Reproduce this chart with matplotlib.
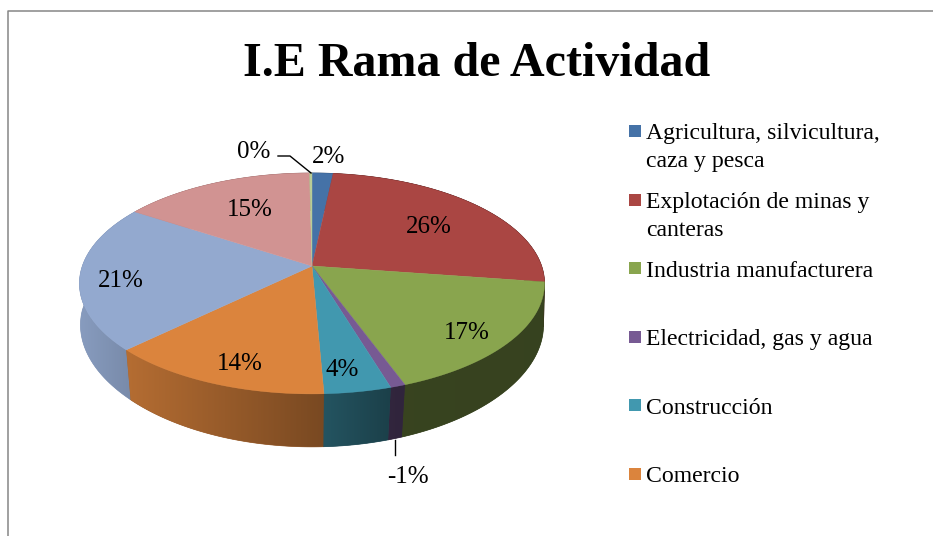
import matplotlib
matplotlib.use("Agg")
import matplotlib.pyplot as plt
from matplotlib.colors import to_rgb
from matplotlib.patches import Polygon
import numpy as np

plt.rcParams['font.family'] = ['Liberation Serif', 'DejaVu Serif']

title = "I.E Rama de Actividad"

# porcentajes (sentido horario desde arriba)
shares = [1.7, 25.6, 17.1, 0.9, 4.0, 13.5, 21.4, 15.6, 0.2]
labels = ["2%", "26%", "17%", "-1%", "4%", "14%", "21%", "15%", "0%"]
colors = ["#4572a7", "#aa4643", "#89a54e", "#775a93", "#4198af",
          "#db843d", "#93a9cf", "#d19392", "#b9cd96"]

legend_names = [["Agricultura, silvicultura,", "caza y pesca"],
                ["Explotación de minas y", "canteras"],
                ["Industria manufacturera"],
                ["Electricidad, gas y agua"],
                ["Construcción"],
                ["Comercio"]]

# layout en pixeles
cx, cy = 312, 266
rx, ry, persp = 229.6, 107.7, 0.158
label_pos = [(329, 155), (429, 225), (467, 331), (408, 475), (342, 368),
             (240, 362), (121, 279), (250, 208), (254, 150)]
shade_x = [80, 130, 325, 395, 545]
shade_m = [0.92, 0.82, 0.55, 0.41, 0.40]


def rim(theta):
    # circulo -> pantalla con perspectiva, theta en grados desde arriba
    u = np.sin(np.radians(theta))
    v = np.cos(np.radians(theta))
    d = 1 + persp * v
    return cx + rx * u / d, cy - ry * v / d


def lower_rim(theta):
    x, y = rim(theta)
    s = 1.0 - 0.00028 * np.clip(y - cy, 0, None)
    return cx + s * (x - cx), y + 44 + 0.07 * (y - cy)


fig = plt.figure(figsize=(9.33, 5.36), dpi=100)
ax = fig.add_axes([0, 0, 1, 1])
ax.axis("off")

# marco
ax.plot([933, 8, 8], [11, 11, 536], color="#868686", lw=1.1)

edges = np.concatenate([[0], np.cumsum(shares)]) / np.sum(shares) * 360

# pared lateral con degradado, de atras hacia adelante
walls = []
for i, c in enumerate(colors):
    t = np.linspace(edges[i], edges[i + 1], max(int(edges[i + 1] - edges[i]) * 2, 2))
    x0, y0 = rim(t)
    x1, y1 = lower_rim(t)
    walls.append((np.mean(y0), np.c_[np.r_[x0, x1[::-1]], np.r_[y0, y1[::-1]]], c))
walls.sort(key=lambda w: w[0])

grad_x = np.arange(60, 570)
for _, pts, c in walls:
    base = np.array(to_rgb(c)) * np.interp(pts[:, 0].mean(), shade_x, shade_m)
    ax.add_patch(Polygon(pts, closed=True, facecolor=base, edgecolor=base, lw=0.5))
    grad = np.interp(grad_x, shade_x, shade_m)[None, :, None] * np.array(to_rgb(c))[None, None, :]
    im = ax.imshow(grad, extent=(60, 570, 480, 150), aspect="auto", interpolation="bilinear", zorder=1.5)
    im.set_clip_path(Polygon(pts, closed=True, transform=ax.transData))

# cara superior
for i, c in enumerate(colors):
    t = np.linspace(edges[i], edges[i + 1], max(int(edges[i + 1] - edges[i]) * 2, 2))
    x, y = rim(t)
    ax.fill(np.r_[cx, x], np.r_[cy, y], color=c, lw=0.3, zorder=2)

ax.set_xlim(0, 933)
ax.set_ylim(536, 0)

# lineas guia
ax.plot([278, 290, 311], [156, 156, 173], color="black", lw=1, zorder=3)
ax.plot([395, 395], [440, 455], color="black", lw=1, zorder=3)

for lab, (x, y) in zip(labels, label_pos):
    ax.text(x, y + 2, lab, fontsize=18, ha="center", va="center", color="black", zorder=4)

ax.text(477, 64, title, fontsize=34.6, fontweight="bold", ha="center", va="center")

# leyenda
for i, lines in enumerate(legend_names):
    top = 125 + i * 68.6
    ax.fill([629, 641, 641, 629], [top, top, top + 12, top + 12], color=colors[i], lw=0)
    for j, line in enumerate(lines):
        ax.text(646, top + 14.5 + j * 28, line, fontsize=17.1, ha="left", va="baseline",
                color="black")

fig.savefig("out.png", dpi=100)
plt.close("all")
